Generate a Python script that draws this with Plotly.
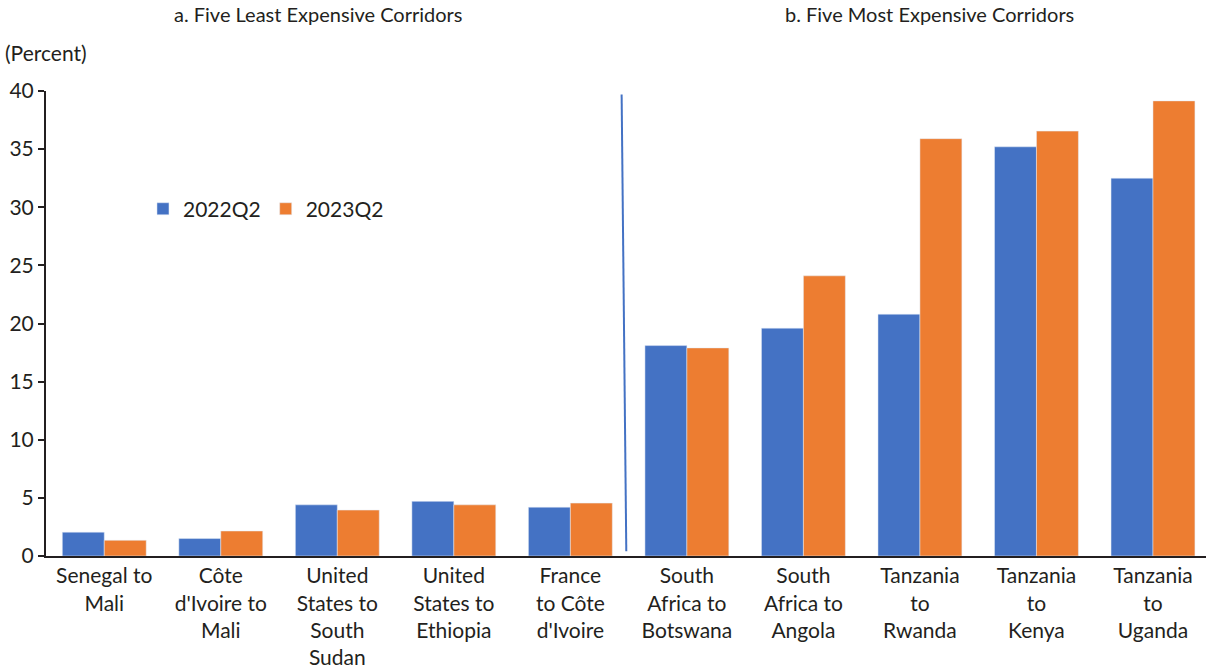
import plotly.graph_objects as go

corridors = [
    "Senegal to<br>Mali",
    "Côte<br>d'Ivoire to<br>Mali",
    "United<br>States to<br>South<br>Sudan",
    "United<br>States to<br>Ethiopia",
    "France<br>to Côte<br>d'Ivoire",
    "South<br>Africa to<br>Botswana",
    "South<br>Africa to<br>Angola",
    "Tanzania<br>to<br>Rwanda",
    "Tanzania<br>to<br>Kenya",
    "Tanzania<br>to<br>Uganda",
]
cost_2022q2 = [2.05, 1.5, 4.4, 4.7, 4.2, 18.1, 19.6, 20.8, 35.2, 32.5]
cost_2023q2 = [1.35, 2.15, 3.95, 4.4, 4.55, 17.9, 24.1, 35.9, 36.55, 39.15]
y_ticks = [0, 5, 10, 15, 20, 25, 30, 35, 40]

BLUE = "#4472C4"
ORANGE = "#ED7D31"
TEXT = "#231F20"
FONT = "Lato, 'Open Sans', sans-serif"

fig = go.Figure()
fig.add_trace(go.Bar(x=corridors, y=cost_2022q2, name="2022Q2", marker_color=BLUE))
fig.add_trace(go.Bar(x=corridors, y=cost_2023q2, name="2023Q2", marker_color=ORANGE))

# divider between panel a and panel b
fig.add_shape(type="line", xref="x", yref="y", x0=4.44, y0=39.7, x1=4.48, y1=0.4,
              line=dict(color=BLUE, width=2))

fig.add_annotation(text="a. Five Least Expensive Corridors", xref="paper", yref="paper",
                   x=0.2345, y=1.166, xanchor="center", yanchor="middle", showarrow=False,
                   font=dict(size=20, color=TEXT))
fig.add_annotation(text="b. Five Most Expensive Corridors", xref="paper", yref="paper",
                   x=0.762, y=1.166, xanchor="center", yanchor="middle", showarrow=False,
                   font=dict(size=20, color=TEXT))
fig.add_annotation(text="(Percent)", xref="paper", yref="paper", x=-0.037, y=1.082,
                   xanchor="left", yanchor="middle", showarrow=False,
                   font=dict(size=21, color=TEXT))

fig.update_layout(
    width=1206, height=671,
    margin=dict(l=46, r=0, t=91, b=115),
    plot_bgcolor="white", paper_bgcolor="white",
    font=dict(family=FONT, size=21, color=TEXT),
    barmode="group", bargap=0.28, bargroupgap=0,
    legend=dict(orientation="h", x=0.0836, y=0.746, xanchor="left", yanchor="middle",
                font=dict(size=21), bgcolor="rgba(0,0,0,0)", itemwidth=30,
                traceorder="normal"),
    xaxis=dict(range=[-0.5, 9.455], showline=True, linecolor="#231F20", linewidth=2,
               ticks="", tickfont=dict(size=21), tickangle=0, automargin=False),
    yaxis=dict(range=[0, 40], tickvals=y_ticks, showgrid=False, zeroline=False,
               showline=True, linecolor="#231F20", linewidth=2,
               ticks="outside", ticklen=6, tickwidth=2, tickcolor="#231F20",
               tickfont=dict(size=21), automargin=False),
)

# drop the default 8px page margin so the figure fills the window
fig.write_html("out.html", config={"displayModeBar": False},
               post_script="document.body.style.margin='0';")
